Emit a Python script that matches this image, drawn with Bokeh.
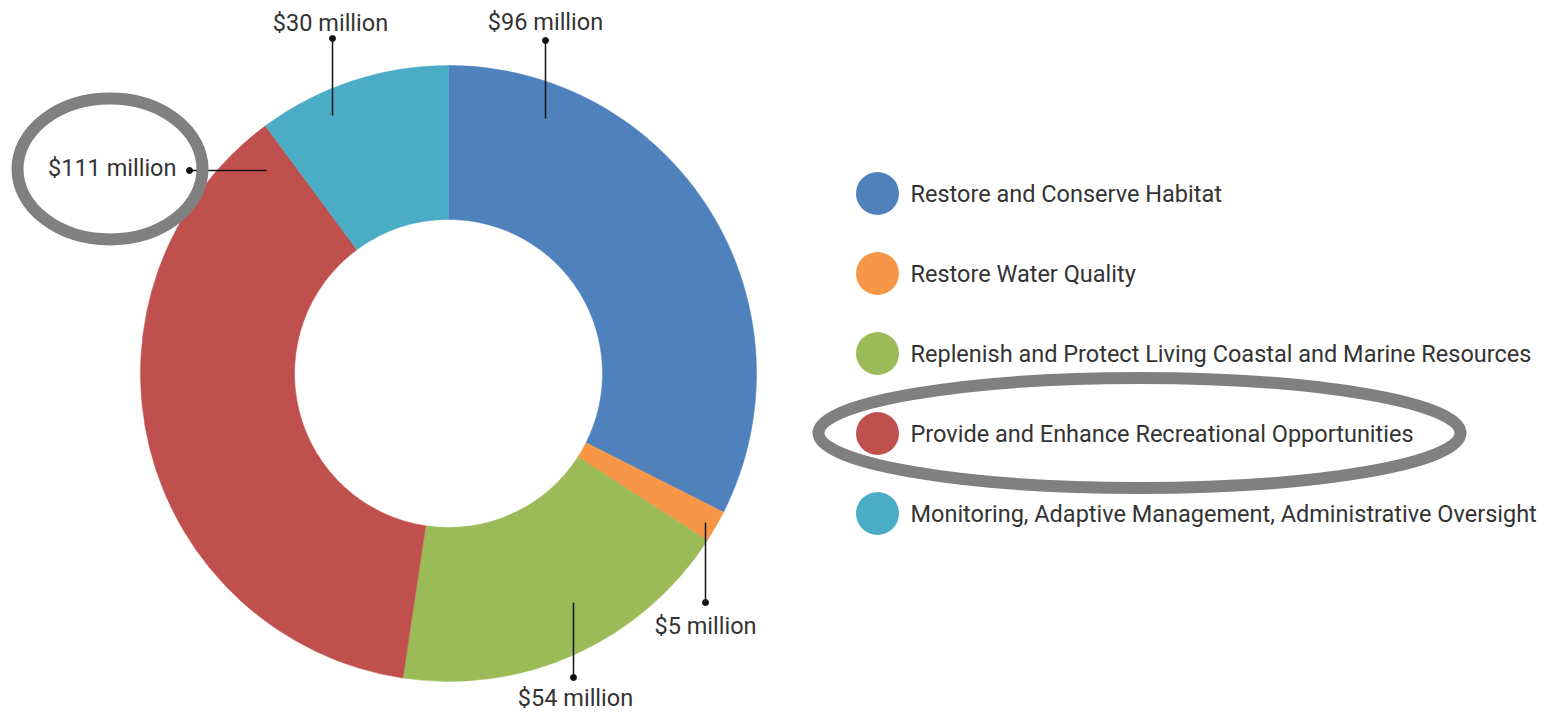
import math
from bokeh.plotting import figure
from bokeh.models import Range1d, ColumnDataSource
from bokeh.core.properties import value
from bokeh.embed import file_html
from bokeh.resources import INLINE

# ---- data ----
categories = [
    "Restore and Conserve Habitat",
    "Restore Water Quality",
    "Replenish and Protect Living Coastal and Marine Resources",
    "Provide and Enhance Recreational Opportunities",
    "Monitoring, Adaptive Management, Administrative Oversight",
]
values = [96, 5, 54, 111, 30]  # $ million
colors = ["#4f81bd", "#f79646", "#9bbb59", "#c0504d", "#4bacc6"]

# ---- layout (image pixel coordinates, y measured from top) ----
W, H = 1560, 715
def Y(y):
    return H - y

CX, CY = 448, 373
R_OUT, R_IN = 308, 154

# label positions per slice: text x, text y, align, dot (x,y), line end (x,y)
label_tx = [545, 705, 575, 176, 330]
label_ty = [21, 625, 697, 167, 22]
label_align = ["center", "center", "center", "right", "center"]
dot_x = [545, 705, 573, 189, 332]
dot_y = [40, 602, 677, 170, 38]
end_x = [545, 705, 573, 266, 332]
end_y = [118, 522, 602, 170, 115]

LEG_X, LEG_TX = 877, 910
leg_y = [193, 273, 353, 433, 513]

FONT = value("Roboto")
TXT = "#333333"
FS = "23.5px"

p = figure(width=W, height=H, output_backend="svg", toolbar_location=None,
           x_range=Range1d(0, W), y_range=Range1d(0, H),
           min_border=0)
p.axis.visible = False
p.grid.visible = False
p.outline_line_color = None
p.background_fill_color = "white"

# donut
total = sum(values)
starts, ends = [], []
cum = 0
for v in values:
    a0 = math.pi / 2 - 2 * math.pi * cum / total
    cum += v
    a1 = math.pi / 2 - 2 * math.pi * cum / total
    starts.append(a1)
    ends.append(a0)
src = ColumnDataSource(dict(start=starts, end=ends, color=colors))
p.annular_wedge(x=CX, y=Y(CY), inner_radius=R_IN, outer_radius=R_OUT,
                start_angle="start", end_angle="end", color="color",
                line_color="color", line_width=0.5, source=src)

# leader lines and labels
for i, v in enumerate(values):
    p.line([dot_x[i], end_x[i]], [Y(dot_y[i]), Y(end_y[i])],
           line_color="#111111", line_width=1.5)
p.scatter(dot_x, [Y(y) for y in dot_y], size=6, color="#111111")
lbl = ColumnDataSource(dict(x=label_tx, y=[Y(y) for y in label_ty],
                            t=[f"${v} million" for v in values], a=label_align))
p.text(x="x", y="y", text="t", text_align="a", text_baseline="middle",
       text_font=FONT, text_font_size=FS, text_color=TXT, source=lbl)

# legend
p.scatter([LEG_X] * len(categories), [Y(y) for y in leg_y], size=43,
          color=colors, line_color=None)
p.text(x=[LEG_TX] * len(categories), y=[Y(y) for y in leg_y], text=categories,
       text_align="left", text_baseline="middle", text_font=FONT,
       text_font_size=FS, text_color=TXT)

# gray highlight ellipses
p.ellipse(x=[109.5, 1139], y=[Y(168.5), Y(432.5)], width=[185, 642],
          height=[141, 110], fill_color=None, line_color="#808080",
          line_width=12)

open("out.html", "w").write(file_html(p, INLINE))
